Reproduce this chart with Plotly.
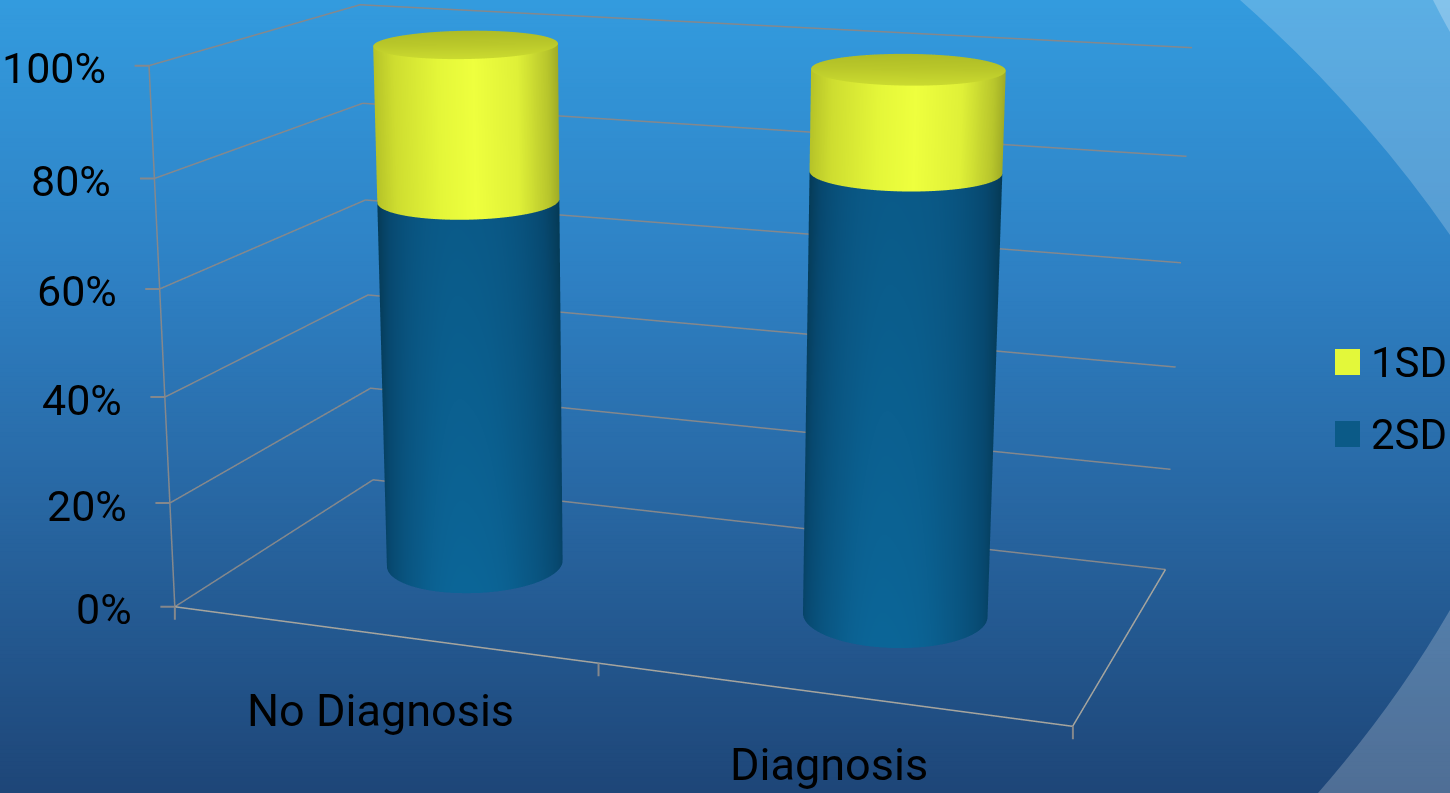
import numpy as np
import plotly.graph_objects as go

# Chart content
categories = ["No Diagnosis", "Diagnosis"]
category_positions = [0.5, 1.5]
series_names = ["1SD", "2SD"]
sd2_values = [71, 82]
sd1_values = [29, 18]
z_ticks = [0, 20, 40, 60, 80, 100]
z_tick_labels = ["0%", "20%", "40%", "60%", "80%", "100%"]
x_tick_positions = [0, 1, 2]

# Cylinder footprint in axis units
radius_x = 0.2
radius_y = 0.21

# Colours
BLUE_SIDE = [[0.0, "#053a55"], [0.3, "#07486f"], [0.8, "#0a5a88"], [1.0, "#0b6597"]]
YELLOW_SIDE = [[0.0, "#b5c228"], [0.12, "#cedd30"], [0.36, "#e4f639"], [0.55, "#eeff3e"],
               [0.78, "#dff038"], [0.94, "#b8c62c"], [1.0, "#a0ac26"]]
YELLOW_CAP = [[0.0, "#aebc26"], [0.5, "#bac82a"], [1.0, "#cbdb30"]]
LEGEND_COLOURS = ["#e3f83a", "#0b5a87"]
GRID_COLOUR = "#85888c"
FLOOR_COLOUR = "#a6a59e"
TEXT_FONT = dict(family="Roboto, sans-serif", size=43, color="black")
CATEGORY_FONT = dict(TEXT_FONT, size=45)
UNLIT = dict(ambient=1, diffuse=0, specular=0, roughness=1, fresnel=0)

# Page and camera geometry: the scene is rendered in a tall viewport and shifted up,
# which gives the long lens this perspective needs at plotly's fixed field of view.
WIDTH, HEIGHT = 1450, 2346
VIEW_HEIGHT = 793
TOP_SHIFT = 783
SCENE_DOMAIN_X = [0, 0.9009]
EYE = np.array([1.00925, -2.82778, 0.75989])
YAW, PITCH = -0.35273, 0.26944
LOOK = np.array([np.cos(PITCH) * np.sin(YAW), np.cos(PITCH) * np.cos(YAW), -np.sin(PITCH)])
CENTER = EYE + 3 * LOOK
ASPECT = dict(x=1.0, y=0.50163, z=0.59871)
CATEGORY_LABEL_SHIFT = [-76, -71]


def px(x):
    return x / WIDTH


def py(y):
    return 1 - (y + TOP_SHIFT) / HEIGHT


def facing_angle(x0):
    nx = ASPECT["x"] * (x0 / 2 - 0.5)
    return np.arctan2(EYE[1], EYE[0] - nx)


def tube(x0, z0, z1):
    theta = np.linspace(0, 2 * np.pi, 181)
    xs = x0 + radius_x * np.cos(theta)
    ys = 0.5 + radius_y * np.sin(theta)
    zs = np.vstack([np.full_like(xs, z0), np.full_like(xs, z1)])
    return theta, np.vstack([xs, xs]), np.vstack([ys, ys]), zs


def blue_side(x0, z0, z1):
    # Brightness falls towards both silhouettes and rises slightly towards the floor
    theta, xs, ys, zs = tube(x0, z0, z1)
    t = np.sin(theta - facing_angle(x0))
    glow = (1 - np.abs(t) ** 2.6) * (1 - 0.08 * t)
    return go.Surface(x=xs, y=ys, z=zs, surfacecolor=np.vstack([glow * 0.8 + 0.2, glow * 0.8]),
                      cmin=0, cmax=1, colorscale=BLUE_SIDE, showscale=False,
                      hoverinfo="skip", lighting=UNLIT)


def yellow_side(x0, z0, z1):
    theta, xs, ys, zs = tube(x0, z0, z1)
    t = np.sin(theta - facing_angle(x0))
    return go.Surface(x=xs, y=ys, z=zs, surfacecolor=np.vstack([t, t]),
                      cmin=-1, cmax=1, colorscale=YELLOW_SIDE, showscale=False,
                      hoverinfo="skip", lighting=UNLIT)


def cap_surface(x0, z0):
    theta = np.linspace(0, 2 * np.pi, 121)
    rad = np.linspace(0, 1, 12)
    t, r = np.meshgrid(theta, rad)
    return go.Surface(
        x=x0 + radius_x * r * np.cos(t), y=0.5 + radius_y * r * np.sin(t),
        z=np.full_like(t, z0), surfacecolor=r * np.cos(t - facing_angle(x0)), cmin=-1, cmax=1,
        colorscale=YELLOW_CAP, showscale=False, hoverinfo="skip", lighting=UNLIT,
    )


fig = go.Figure()

# Wall gridlines and floor outline
gx, gy, gz = [], [], []
for z in z_ticks:
    gx += [0, 0, 2, None]
    gy += [0, 1, 1, None]
    gz += [z, z, z, None]
gx += [0, 0]
gy += [0, 0]
gz += [z_ticks[0], z_ticks[-1]]
fig.add_trace(go.Scatter3d(x=gx, y=gy, z=gz, mode="lines", hoverinfo="skip",
                           line=dict(color=GRID_COLOUR, width=3), showlegend=False))
fig.add_trace(go.Scatter3d(x=[0, 2, 2], y=[0, 0, 1], z=[0, 0, 0], mode="lines", hoverinfo="skip",
                           line=dict(color=FLOOR_COLOUR, width=3), showlegend=False))

# Stacked cylinders
for x0, low, high in zip(category_positions, sd2_values, sd1_values):
    fig.add_trace(blue_side(x0, 0, low))
    fig.add_trace(yellow_side(x0, low, low + high))
    fig.add_trace(cap_surface(x0, low + high))

# Axis ticks and labels anchored to the scene
tick_line = dict(showarrow=True, arrowhead=0, arrowwidth=2, arrowcolor=GRID_COLOUR, text=" ",
                 font=dict(size=1), borderpad=0)
scene_notes = []
for z, label in zip(z_ticks, z_tick_labels):
    scene_notes.append(dict(x=0, y=0, z=z, ax=-15, ay=0, **tick_line))
    scene_notes.append(dict(x=0, y=0, z=z, text=label, showarrow=False, xanchor="right",
                            xshift=-41, yshift=-2.5, font=TEXT_FONT))
for x in x_tick_positions:
    scene_notes.append(dict(x=x, y=0, z=0, ax=0, ay=14, **tick_line))
for x0, name, shift in zip(category_positions, categories, CATEGORY_LABEL_SHIFT):
    scene_notes.append(dict(x=x0, y=0, z=0, text=name, showarrow=False, yshift=shift, font=CATEGORY_FONT))

# Backdrop: vertical gradient with translucent corner swooshes
stops = np.array([[0, 51, 155, 222], [0.35, 46, 128, 195], [0.7, 38, 97, 155], [1, 30, 70, 120]], float)
shapes = []
steps = 200
for i in range(steps):
    f = i / (steps - 1)
    c = [int(round(np.interp(f, stops[:, 0], stops[:, k]))) for k in (1, 2, 3)]
    shapes.append(dict(type="rect", xref="paper", yref="paper", layer="below",
                       x0=0, x1=1, y0=py(VIEW_HEIGHT * (i + 1.5) / steps), y1=py(VIEW_HEIGHT * i / steps),
                       fillcolor=f"rgb({c[0]},{c[1]},{c[2]})", line_width=0))


def swoosh(path_points, fill):
    (a, b, c, d) = path_points
    path = (f"M {px(a[0])} {py(a[1])} Q {px(b[0])} {py(b[1])} {px(c[0])} {py(c[1])} "
            f"L {px(d[0])} {py(d[1])} Z")
    return dict(type="path", xref="paper", yref="paper", layer="below", path=path,
                fillcolor=fill, line_width=0)


shapes.append(swoosh([(1240, 0), (1362, 108), (1450, 235), (1450, 0)], "rgba(255,255,255,0.2)"))
shapes.append(swoosh([(1433, 0), (1442, 18), (1450, 32), (1450, 0)], "rgba(255,255,255,0.25)"))
shapes.append(swoosh([(1318, 793), (1395, 705), (1450, 610), (1450, 793)], "rgba(255,255,255,0.22)"))

# Legend
legend_y = [362, 434]
notes = []
for name, colour, y in zip(series_names, LEGEND_COLOURS, legend_y):
    shapes.append(dict(type="rect", xref="paper", yref="paper", layer="above",
                       x0=px(1335), x1=px(1360), y0=py(y + 13), y1=py(y - 13),
                       fillcolor=colour, line_width=0))
    notes.append(dict(xref="paper", yref="paper", x=px(1369), y=py(y), text=name, showarrow=False,
                      xanchor="left", yanchor="middle", font=dict(TEXT_FONT, size=42)))

hidden = dict(visible=False, showspikes=False, autorange=False)
fig.update_layout(
    width=WIDTH, height=HEIGHT, autosize=False,
    margin=dict(l=0, r=0, t=0, b=0),
    paper_bgcolor="#2a6fa8",
    showlegend=False,
    shapes=shapes,
    annotations=notes,
    scene=dict(
        domain=dict(x=SCENE_DOMAIN_X, y=[0, 1]),
        bgcolor="rgba(0,0,0,0)",
        xaxis=dict(range=[0, 2], **hidden),
        yaxis=dict(range=[0, 1], **hidden),
        zaxis=dict(range=[0, 100], **hidden),
        aspectmode="manual", aspectratio=ASPECT,
        camera=dict(eye=dict(x=EYE[0], y=EYE[1], z=EYE[2]),
                    center=dict(x=CENTER[0], y=CENTER[1], z=CENTER[2]),
                    up=dict(x=0, y=0, z=1),
                    projection=dict(type="perspective")),
        annotations=scene_notes,
    ),
)

fig.write_html(
    "out.html",
    post_script=(
        "var g=document.getElementById('{plot_id}');"
        f"g.style.marginTop='-{TOP_SHIFT}px';"
        "document.documentElement.style.overflow='hidden';"
        "document.body.style.overflow='hidden';"
        f"document.body.style.height='{VIEW_HEIGHT}px';"
    ),
)
